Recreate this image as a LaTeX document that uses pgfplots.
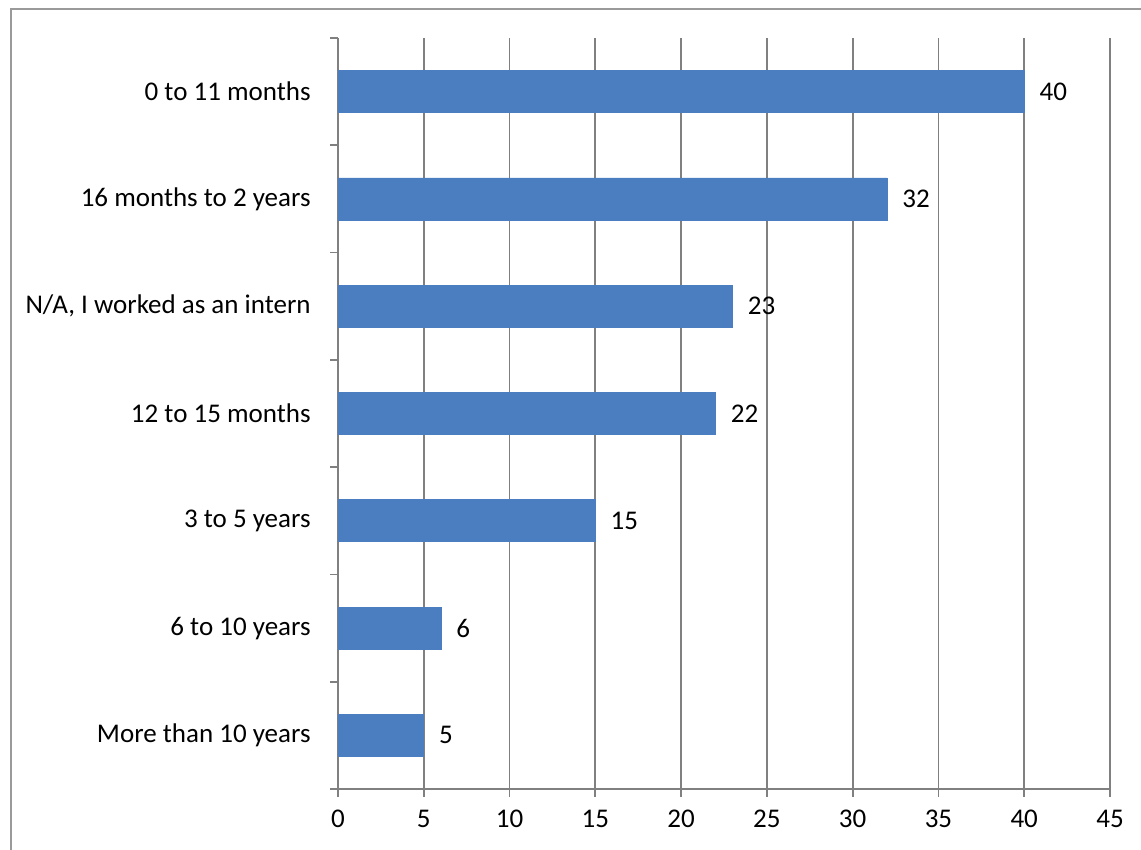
\documentclass[border=0pt]{standalone}
\usepackage{fontspec}
\setmainfont{Carlito}
\usepackage{pgfplots}
\pgfplotsset{compat=1.18}
\definecolor{barblue}{RGB}{74,126,192}
\definecolor{gridgray}{RGB}{128,128,128}
\begin{document}
\fontsize{13.5}{16}\selectfont
\begin{tikzpicture}
\useasboundingbox (-169pt,-30.5pt) rectangle (401.5pt,394.5pt);
\draw[gridgray!80, line width=1pt] (-163.5pt,-40pt) rectangle (410pt,390pt);
\begin{axis}[
  at={(0,0)}, anchor=south west, scale only axis,
  width=386pt, height=375.5pt,
  xbar, bar width=21pt,
  xmin=0, xmax=45, ymin=0.5, ymax=7.5,
  axis x line*=bottom, axis y line*=left,
  axis line style={-, gridgray, line width=0.9pt},
  xtick={0,5,...,45},
  xmajorgrids, grid style={gridgray, line width=0.9pt},
  ytick={0.5,1.5,...,7.5}, yticklabels={},
  extra y ticks={1,2,3,4,5,6,7},
  extra y tick labels={More than 10 years, 6 to 10 years, 3 to 5 years, 12 to 15 months, {N/A, I worked as an intern}, 16 months to 2 years, 0 to 11 months},
  extra y tick style={major tick length=0pt, yticklabel style={xshift=-9pt}},
  tick align=outside, major tick length=4pt,
  tick style={gridgray, line width=0.9pt},
  xticklabel style={yshift=-2pt},
  /pgf/number format/assume math mode=true,
  ticklabel style={font=\fontsize{13.5}{16}\selectfont, text=black},
  nodes near coords,
  nodes near coords style={font=\fontsize{13.5}{16}\selectfont, text=black, xshift=3pt},
]
\addplot[fill=barblue, draw=barblue] coordinates {
  (5,1) (6,2) (15,3) (22,4) (23,5) (32,6) (40,7)
};
\end{axis}
\end{tikzpicture}
\end{document}
